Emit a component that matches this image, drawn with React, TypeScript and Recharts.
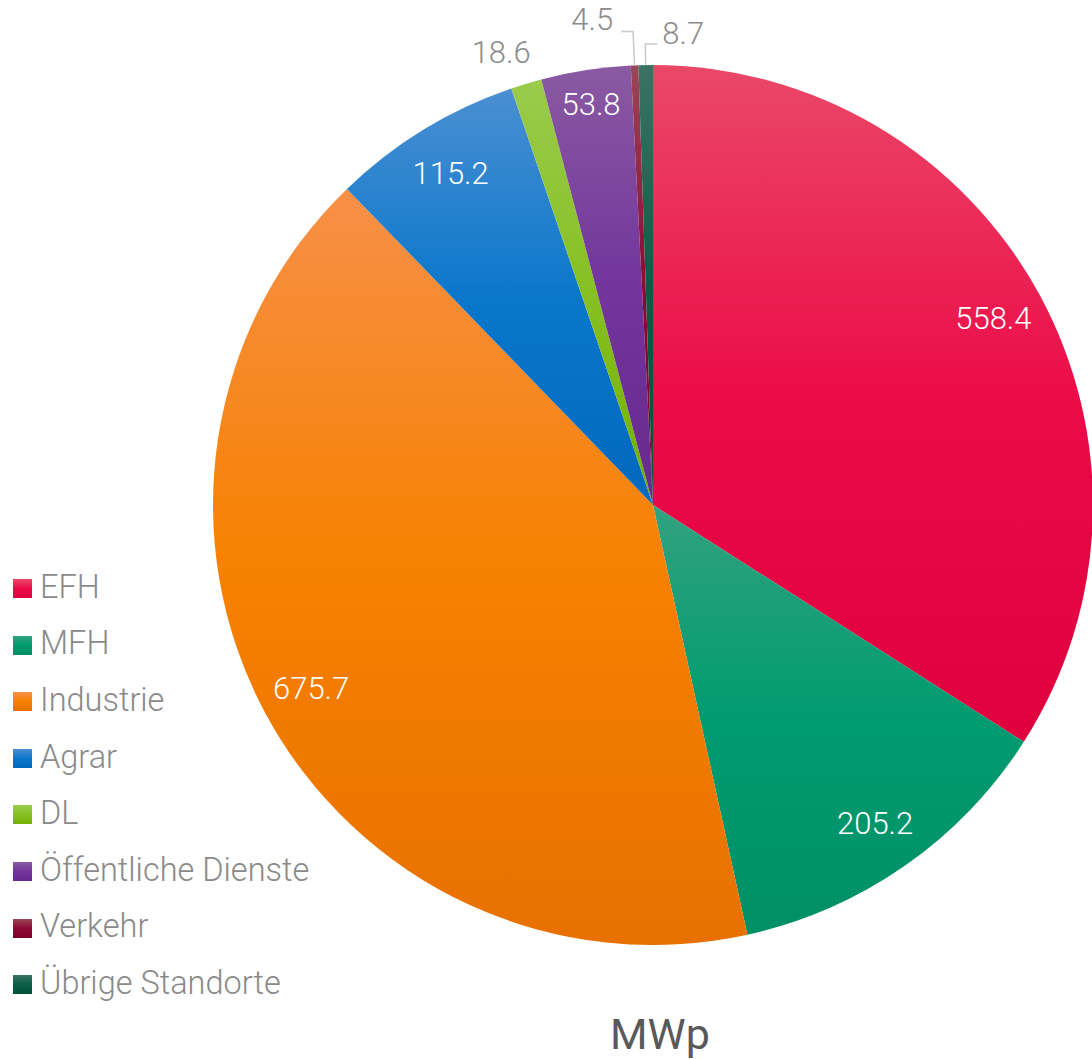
import React from 'react';
import { PieChart, Pie, Cell, Legend } from 'recharts';

const categories = ['EFH', 'MFH', 'Industrie', 'Agrar', 'DL', 'Öffentliche Dienste', 'Verkehr', 'Übrige Standorte'];
const values = [558.4, 205.2, 675.7, 115.2, 18.6, 53.8, 4.5, 8.7];
const gradTop = ['#ea4868', '#32a27f', '#f79048', '#4b8fd2', '#9bcb4c', '#8a5aa2', '#9a4656', '#3c7264'];
const gradMid = ['#ec0a47', '#009b70', '#f78100', '#0a77cb', '#86c023', '#72359c', '#8c0a34', '#0a5e46'];
const gradBot = ['#e0003e', '#008f66', '#e87000', '#0068be', '#72b000', '#662a8c', '#7e002c', '#00503a'];
const title = 'MWp';

const data = categories.map((name, i) => ({ name, value: values[i] }));

const FONT = 'Roboto, "Noto Sans", sans-serif';

const renderLabel = (p: any) => {
  const { cx, cy, midAngle, outerRadius: R, index, percent, value } = p;
  const rad = (-midAngle * Math.PI) / 180;
  const pt = (r: number): [number, number] => [cx + r * Math.cos(rad), cy + r * Math.sin(rad)];
  const txt = Number(value).toFixed(1);
  if (percent >= 0.02) {
    const r = percent < 0.05 ? R * 0.92 : R * 0.882;
    const [x, y] = pt(r);
    return (
      <text x={x} y={y} textAnchor="middle" dominantBaseline="central" fill="#ffffff" fontSize={31} fontWeight={300} fontFamily={FONT}>
        {txt}
      </text>
    );
  }
  if (percent >= 0.01) {
    const [x, y] = pt(R + 33);
    return (
      <text x={x + 14} y={y} textAnchor="end" dominantBaseline="central" fill="#8c8c8c" fontSize={31} fontWeight={300} fontFamily={FONT}>
        {txt}
      </text>
    );
  }
  const left = index !== values.length - 1;
  const len = left ? 34 : 21;
  const [x0, y0] = pt(R);
  const [x1, y1] = pt(R + len);
  const x2 = x1 + (left ? -12 : 12);
  return (
    <g>
      <polyline points={`${x0},${y0} ${x1},${y1} ${x2},${y1}`} fill="none" stroke="#c8c8c8" strokeWidth={1.5} />
      <text
        x={x2 + (left ? -8 : 5)}
        y={y1 - (left ? 12 : 11)}
        textAnchor={left ? 'end' : 'start'}
        dominantBaseline="central"
        fill="#8c8c8c"
        fontSize={31}
        fontWeight={300}
        fontFamily={FONT}
      >
        {txt}
      </text>
    </g>
  );
};

const LegendContent = () => {
  return (
    <div style={{ fontFamily: FONT }}>
      {categories.map((name, k) => (
        <div key={name} style={{ height: 56.6, display: 'flex', alignItems: 'center' }}>
          <div
            style={{
              width: 19,
              height: 19,
              marginRight: 8,
              marginTop: 3,
              flexShrink: 0,
              background: `linear-gradient(to bottom, ${gradTop[k]}, ${gradMid[k]} 50%, ${gradBot[k]})`,
            }}
          />
          <span style={{ fontSize: 32.5, fontWeight: 300, color: '#8a8a8a', lineHeight: 1, whiteSpace: 'nowrap' }}>{name}</span>
        </div>
      ))}
    </div>
  );
};

export default function App() {
  return (
    <div style={{ position: 'absolute', left: 0, top: 0, width: 1092, height: 1059, background: '#ffffff' }}>
      <PieChart width={1092} height={1059} margin={{ top: 0, right: 0, bottom: 0, left: 0 }}>
        <defs>
          {categories.map((c, i) => (
            <linearGradient key={c} id={`grad-${i}`} x1="0" y1="0" x2="0" y2="1">
              <stop offset="0" stopColor={gradTop[i]} />
              <stop offset="0.5" stopColor={gradMid[i]} />
              <stop offset="1" stopColor={gradBot[i]} />
            </linearGradient>
          ))}
        </defs>
        <Pie
          data={data}
          dataKey="value"
          nameKey="name"
          cx={653}
          cy={505}
          outerRadius={440}
          startAngle={90}
          endAngle={-270}
          stroke="none"
          label={renderLabel}
          labelLine={false}
          isAnimationActive={false}
        >
          {data.map((d, i) => (
            <Cell key={d.name} fill={`url(#grad-${i})`} stroke="none" />
          ))}
        </Pie>
        <Legend
          layout="vertical"
          content={<LegendContent />}
          wrapperStyle={{ position: 'absolute', left: 13, top: 558.7, width: 400, bottom: 'auto', right: 'auto' }}
        />
      </PieChart>
      <div
        style={{
          position: 'absolute',
          left: 560,
          width: 200,
          top: 1009,
          textAlign: 'center',
          fontFamily: FONT,
          fontSize: 43,
          fontWeight: 400,
          color: '#595959',
          lineHeight: '50px',
        }}
      >
        {title}
      </div>
    </div>
  );
}
